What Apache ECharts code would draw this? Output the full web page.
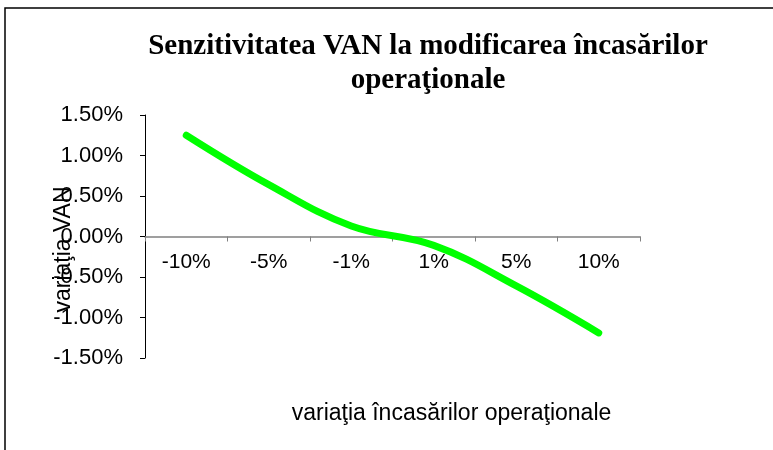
<!DOCTYPE html>
<html>
<head>
<meta charset="utf-8">
<script src="https://cdn.jsdelivr.net/npm/echarts@6/dist/echarts.min.js"></script>
<style>html,body{margin:0;padding:0;background:#fff;}#c{width:773px;height:450px;}</style>
</head>
<body>
<div id="c"></div>
<script>
const categories = ['-10%', '-5%', '-1%', '1%', '5%', '10%'];
const vanVariation = [1.25, 0.64, 0.13, -0.11, -0.61, -1.19];
const yTicks = { min: -1.5, max: 1.5, interval: 0.5 };
const titleText = 'Senzitivitatea VAN la modificarea încasărilor\noperaţionale';
const xName = 'variaţia încasărilor operaţionale';
const yName = 'variaţia VAN';

const gridTop = 115, gridBottom = 92, chartH = 450;
// place the category axis on the zero line of the value axis
const plotH = chartH - gridTop - gridBottom;
const zeroOffset = -plotH * (0 - yTicks.min) / (yTicks.max - yTicks.min);

const chart = echarts.init(document.getElementById('c'), null, { renderer: 'canvas' });
chart.setOption({
  animation: false,
  backgroundColor: '#fff',
  graphic: [{
    type: 'rect',
    shape: { x: 5, y: 8, width: 900, height: 600 },
    style: { fill: 'none', stroke: '#000', lineWidth: 1.5 },
    silent: true
  }],
  title: {
    text: titleText,
    left: 423, top: 25,
    textAlign: 'center',
    textStyle: {
      fontFamily: 'Liberation Serif', fontWeight: 'bold', fontSize: 29,
      color: '#000', lineHeight: 34, align: 'center'
    }
  },
  grid: { left: 145, right: 133, top: gridTop, bottom: gridBottom, containLabel: false, outerBoundsMode: 'none' },
  xAxis: {
    type: 'category',
    data: categories,
    boundaryGap: true,
    position: 'bottom',
    offset: zeroOffset,
    name: xName,
    nameLocation: 'middle',
    nameGap: 166,
    nameMoveOverlap: false,
    nameTextStyle: { fontFamily: 'Liberation Sans', fontSize: 23, color: '#000', padding: [0, 0, 0, 118] },
    axisLine: { onZero: false, lineStyle: { color: '#808080', width: 1.5 } },
    axisTick: { show: true, length: 5, lineStyle: { color: '#808080' } },
    axisLabel: { fontFamily: 'Liberation Sans', fontSize: 21, color: '#000', margin: 15 },
    splitLine: { show: false }
  },
  yAxis: {
    type: 'value',
    min: yTicks.min, max: yTicks.max, interval: yTicks.interval,
    name: yName,
    nameLocation: 'middle',
    nameRotate: 90,
    nameGap: 70,
    nameMoveOverlap: false,
    nameTextStyle: { fontFamily: 'Liberation Sans', fontSize: 23, color: '#000', padding: [0, 26, 0, 0] },
    axisLine: { show: true, lineStyle: { color: '#000', width: 1 } },
    axisTick: { show: true, length: 5, lineStyle: { color: '#000' } },
    axisLabel: {
      fontFamily: 'Liberation Sans', fontSize: 22, color: '#000', margin: 22,
      formatter: v => v.toFixed(2) + '%'
    },
    splitLine: { show: false }
  },
  series: [{
    type: 'line',
    data: vanVariation,
    smooth: 0.4,
    showSymbol: false,
    symbol: 'none',
    lineStyle: { color: '#00ff00', width: 7, cap: 'round' }
  }]
});
</script>
</body>
</html>
